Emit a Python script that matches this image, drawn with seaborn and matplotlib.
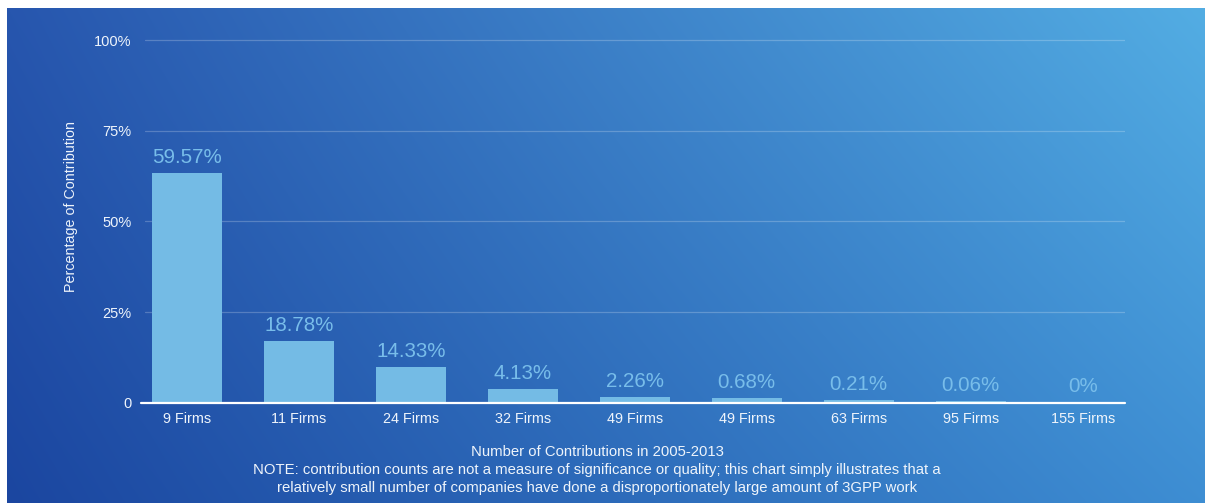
import numpy as np
import pandas as pd
import matplotlib
matplotlib.use("Agg")
import matplotlib.pyplot as plt
import seaborn as sns

# ---- data ----
firm_labels = ["9 Firms", "11 Firms", "24 Firms", "32 Firms", "49 Firms",
               "49 Firms", "63 Firms", "95 Firms", "155 Firms"]
bar_heights = [63.3, 17.0, 9.8, 3.7, 1.5, 1.2, 0.66, 0.47, 0.0]
value_labels = ["59.57%", "18.78%", "14.33%", "4.13%", "2.26%",
                "0.68%", "0.21%", "0.06%", "0%"]
y_ticks = [0, 25, 50, 75, 100]
y_tick_labels = ["0", "25%", "50%", "75%", "100%"]
x_title = "Number of Contributions in 2005-2013"
note_lines = ["NOTE: contribution counts are not a measure of significance or quality; this chart simply illustrates that a",
              "relatively small number of companies have done a disproportionately large amount of 3GPP work"]
y_title = "Percentage of Contribution"

sns.set_theme(style="white")
plt.rcParams['font.family'] = ['Liberation Sans', 'DejaVu Sans']

W, H = 1205, 503
fig = plt.figure(figsize=(W / 100, H / 100), dpi=100)
fig.patch.set_facecolor("white")

# ---- gradient background ----
def hx(c):
    c = c.lstrip('#')
    return np.array([int(c[i:i + 2], 16) for i in (0, 2, 4)]) / 255.0

tl, tr, bl, br = hx("#2756ae"), hx("#53ade3"), hx("#1b46a0"), hx("#3e8ed3")
ny, nx = 200, 400
u = np.linspace(0, 1, nx)[None, :, None]
v = np.linspace(0, 1, ny)[:, None, None]
top = tl * (1 - u) + tr * u
bot = bl * (1 - u) + br * u
grad = top * (1 - v) + bot * v
bg = fig.add_axes([7 / W, 0, 1 - 7 / W, 1 - 8 / H], zorder=0)
bg.imshow(grad, aspect="auto", extent=[0, 1, 0, 1], interpolation="bilinear")
bg.axis("off")

# ---- main axes ----
ax_left, ax_right = 145, 1125
ax_bottom = H - 402.7
ax_top_px = 30
ax = fig.add_axes([ax_left / W, ax_bottom / H, (ax_right - ax_left) / W,
                   (402.7 - ax_top_px) / H], zorder=1)
ax.set_facecolor("none")

df = pd.DataFrame({"pos": np.arange(len(firm_labels)), "value": bar_heights})
bar_color = "#74bbe5"
sns.barplot(data=df, x="pos", y="value", color=bar_color, saturation=1,
            width=0.63, ax=ax, zorder=3, edgecolor="none", linewidth=0)

px_per_unit = 112.0
xl = -41.8 / px_per_unit
ax.set_xlim(xl, xl + (ax_right - ax_left) / px_per_unit)
ax.set_ylim(0, 100 + (402.7 - 362.4 - ax_top_px) / 3.624)

ax.set_yticks(y_ticks)
ax.set_yticklabels(y_tick_labels)
ax.set_xticks(np.arange(len(firm_labels)))
ax.set_xticklabels(firm_labels)
ax.tick_params(axis="y", length=0, pad=9.5, labelsize=10.5, labelcolor="#eef4fb")
ax.tick_params(axis="x", length=0, pad=6.5, labelsize=10.4, labelcolor="#eef4fb")
for s in ax.spines.values():
    s.set_visible(False)

ax.yaxis.grid(True, color="white", alpha=0.22, linewidth=0.9)
ax.xaxis.grid(False)
ax.set_axisbelow(True)
ax.axhline(0, xmin=-4.3 / 980, xmax=1, color="white", linewidth=1.6,
           clip_on=False, zorder=4)

ax.set_xlabel("")
ax.set_ylabel("")

for p, h, lab in zip(df["pos"], df["value"], value_labels):
    ax.annotate(lab, xy=(p, h), xytext=(0, 11.5), textcoords="offset points",
                ha="center", va="center", fontsize=14.8, color="#78bdea", zorder=5)

# y title
fig.text(71 / W, 1 - 206.7 / H, y_title, rotation=90, ha="center", va="center",
         fontsize=10.3, color="#eef4fb")

# x title and note
cx = 597 / W
fig.text(cx, 1 - 452.5 / H, x_title, ha="center", va="center", fontsize=10.7, color="#eef4fb")
fig.text(cx, 1 - 470.3 / H, note_lines[0], ha="center", va="center", fontsize=10.75, color="#eef4fb")
fig.text(cx, 1 - 488.0 / H, note_lines[1], ha="center", va="center", fontsize=10.75, color="#eef4fb")

fig.savefig("out.png", dpi=100)
